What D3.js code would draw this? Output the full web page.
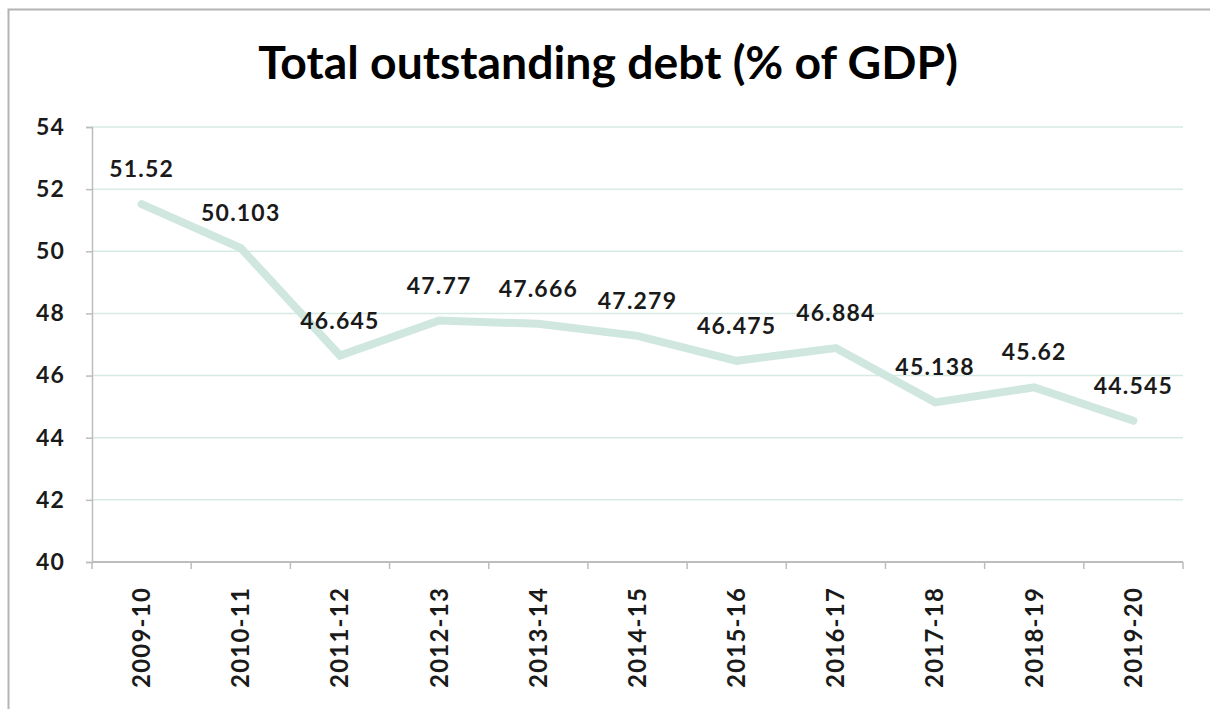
<!DOCTYPE html>
<html>
<head>
<meta charset="utf-8">
<script src="https://cdn.jsdelivr.net/npm/d3@7"></script>
<style>
  html, body { margin: 0; padding: 0; background: #fff; }
  svg { display: block; font-family: Lato, "Open Sans", sans-serif; }
</style>
</head>
<body>
<script>
// Fiscal years and debt ratio (% of GDP)
const years = ["2009-10", "2010-11", "2011-12", "2012-13", "2013-14", "2014-15",
               "2015-16", "2016-17", "2017-18", "2018-19", "2019-20"];
const debt = [51.52, 50.103, 46.645, 47.77, 47.666, 47.279,
              46.475, 46.884, 45.138, 45.62, 44.545];
const yTicks = [40, 42, 44, 46, 48, 50, 52, 54];
const title = "Total outstanding debt (% of GDP)";

const W = 1210, H = 709;
const margin = { left: 92, right: 27, top: 127, bottom: 147 };

const svg = d3.select("body").append("svg").attr("width", W).attr("height", H);

// chart frame
svg.append("path")
  .attr("d", `M8.5,${H} L8.5,9.5 L${W},9.5`)
  .attr("fill", "none").attr("stroke", "#b4b4b4").attr("stroke-width", 2);

const x = d3.scaleBand().domain(years).range([margin.left, W - margin.right]);
const y = d3.scaleLinear().domain([40, 54]).range([H - margin.bottom, margin.top]);

// horizontal gridlines
svg.append("g").selectAll("line").data(yTicks.filter(t => t > 40)).join("line")
  .attr("x1", margin.left).attr("x2", W - margin.right)
  .attr("y1", d => y(d)).attr("y2", d => y(d))
  .attr("stroke", "#d5ebe4").attr("stroke-width", 1.5);

// y axis
const yAxis = svg.append("g")
  .attr("transform", `translate(${margin.left},0)`)
  .call(d3.axisLeft(y).tickValues(yTicks).tickSize(6).tickPadding(21));
yAxis.select(".domain").attr("stroke", "#bdbdbd").attr("stroke-width", 1.5);
yAxis.selectAll(".tick line").attr("stroke", "#bdbdbd").attr("stroke-width", 1.5);
yAxis.selectAll(".tick text")
  .attr("font-family", "Lato, sans-serif").attr("font-weight", "bold")
  .attr("font-size", 23).attr("letter-spacing", 1.2).attr("fill", "#1a1a1a");

// x axis with ticks at band edges
const xAxis = svg.append("g").attr("transform", `translate(0,${y(40)})`);
xAxis.append("line")
  .attr("x1", margin.left).attr("x2", W - margin.right)
  .attr("stroke", "#bdbdbd").attr("stroke-width", 2);
const edges = years.map(d => x(d)).concat([x(years[years.length - 1]) + x.bandwidth()]);
xAxis.selectAll("line.edge").data(edges).join("line").attr("class", "edge")
  .attr("x1", d => d).attr("x2", d => d).attr("y1", 0).attr("y2", 7)
  .attr("stroke", "#bdbdbd").attr("stroke-width", 1.5);
xAxis.selectAll("text").data(years).join("text")
  .attr("transform", d => `translate(${x(d) + x.bandwidth() / 2},25) rotate(-90)`)
  .attr("text-anchor", "end").attr("dy", "0.35em")
  .attr("font-weight", "bold").attr("font-size", 24).attr("letter-spacing", 1.2)
  .attr("fill", "#1a1a1a")
  .text(d => d);

// debt line
const line = d3.line().x((d, i) => x(years[i]) + x.bandwidth() / 2).y(d => y(d));
svg.append("path").datum(debt)
  .attr("d", line)
  .attr("fill", "none").attr("stroke", "#cfe7de").attr("stroke-width", 8)
  .attr("stroke-linecap", "round").attr("stroke-linejoin", "miter");

// value labels
svg.append("g").selectAll("text").data(debt).join("text")
  .attr("x", (d, i) => x(years[i]) + x.bandwidth() / 2)
  .attr("y", d => y(d) - 27)
  .attr("text-anchor", "middle")
  .attr("font-weight", "bold").attr("font-size", 23).attr("letter-spacing", 1.2)
  .attr("fill", "#1a1a1a")
  .text(d => d);

// title
const t = svg.append("text")
  .attr("x", 608).attr("y", 79).attr("text-anchor", "middle")
  .attr("font-weight", "bold").attr("font-size", 40).attr("fill", "#000")
  .text(title);
const len = t.node().getComputedTextLength();
t.attr("font-size", 40 * 700 / len);
</script>
</body>
</html>
